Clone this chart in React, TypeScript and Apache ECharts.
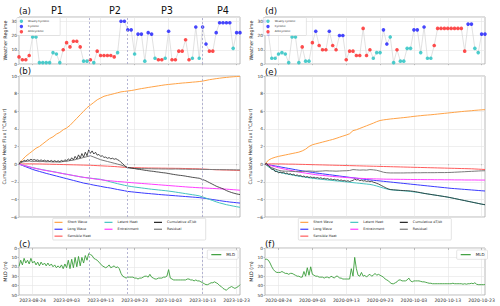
import React, { useEffect, useRef } from 'react';
import * as echarts from 'echarts';

const DAY = 86400000;
const FONT = 'DejaVu Sans';

// ---- dates ----
const START_L = '2023-08-20';
const END_L = '2023-10-24';
const START_R = '2020-08-20';
const END_R = '2020-10-24';
const TICKS_L = ['2023-08-24', '2023-09-03', '2023-09-13', '2023-09-23', '2023-10-03', '2023-10-13', '2023-10-23'];
const TICKS_R = ['2020-08-24', '2020-09-03', '2020-09-13', '2020-09-23', '2020-10-03', '2020-10-13', '2020-10-23'];
const PERIOD_BOUNDS = ['2023-09-09T19:00:00Z', '2023-09-20T22:00:00Z', '2023-10-12T19:00:00Z'];
const PERIOD_LABELS = ['P1', 'P2', 'P3', 'P4'];

// ---- weather regime (daily) ----
const regimeA = [5, 3, 3, 6, 19, 19, 1, 1, 1, 1, 8, 7, 1, 10, 15, 12, 16, 16, 12, 2, 2, 3, 1, 9, 6, 6, 6, 6, 5, 8, 30, 30, 24, 24, 7, 21, 21, 2, 22, 21, 4, 3, 3, 4, 23, 3, 3, 9, 9, 17, 3, 4, 26, 4, 26, 14, 9, 9, 22, 29, 29, 29, 29, 11, 22, 22];
const regimeTypeA = 'AAAAWWWWWWWWWAAAAAAWWAWAAAAAAWCCCCWCCWCCWAAWCAAAAAAWCWCCAACCCCCWCC';
const regimeD = [30, 21, 4, 4, 7, 8, 7, 1, 19, 19, 1, 12, 2, 2, 15, 23, 13, 10, 10, 23, 13, 10, 20, 20, 3, 9, 9, 6, 6, 25, 6, 10, 4, 8, 8, 24, 14, 19, 1, 10, 2, 2, 11, 11, 24, 24, 8, 26, 4, 4, 13, 25, 25, 25, 25, 25, 25, 25, 25, 9, 28, 28, 11, 8, 21, 21];
const regimeTypeD = 'CCWWWWWWWWWAWWACAAACAACCAAAAAAAAWWWCCWWAWWWWCCWCWWAAAAAAAAAACCWWCC';

// ---- cumulative heat flux 2023 (daily) ----
const shortWaveB = [0, 0.5, 0.9, 1.2, 1.5, 1.8, 2.0, 2.3, 2.6, 2.9, 3.1, 3.4, 3.6, 3.9, 4.1, 4.4, 4.8, 5.2, 5.6, 6.0, 6.4, 6.7, 7.0, 7.3, 7.5, 7.7, 7.8, 7.9, 8.0, 8.1, 8.2, 8.25, 8.3, 8.35, 8.42, 8.5, 8.57, 8.63, 8.7, 8.76, 8.82, 8.88, 8.94, 9.0, 9.04, 9.08, 9.12, 9.16, 9.2, 9.23, 9.26, 9.3, 9.33, 9.37, 9.42, 9.5, 9.58, 9.64, 9.7, 9.75, 9.8, 9.84, 9.88, 9.91, 9.94, 9.96];
const longWaveB = [0, -0.15, -0.3, -0.45, -0.6, -0.72, -0.83, -0.94, -1.05, -1.15, -1.25, -1.35, -1.45, -1.55, -1.65, -1.75, -1.85, -1.95, -2.05, -2.15, -2.22, -2.3, -2.38, -2.45, -2.52, -2.6, -2.66, -2.72, -2.8, -2.88, -2.95, -3.02, -3.1, -3.14, -3.18, -3.22, -3.26, -3.3, -3.33, -3.37, -3.4, -3.44, -3.47, -3.5, -3.53, -3.56, -3.59, -3.62, -3.65, -3.68, -3.71, -3.74, -3.77, -3.8, -3.85, -3.9, -3.96, -4.02, -4.08, -4.14, -4.2, -4.25, -4.3, -4.34, -4.38, -4.42];
const sensibleB = [0, 0.02, 0.03, 0.03, 0.03, 0.02, 0.02, 0.01, 0, -0.01, -0.02, -0.03, -0.04, -0.05, -0.06, -0.07, -0.08, -0.09, -0.1, -0.11, -0.12, -0.13, -0.15, -0.17, -0.19, -0.21, -0.23, -0.25, -0.27, -0.3, -0.33, -0.36, -0.38, -0.39, -0.4, -0.41, -0.42, -0.43, -0.44, -0.44, -0.45, -0.45, -0.46, -0.46, -0.47, -0.47, -0.48, -0.48, -0.49, -0.5, -0.51, -0.52, -0.53, -0.54, -0.56, -0.58, -0.6, -0.62, -0.64, -0.65, -0.66, -0.67, -0.68, -0.7, -0.71, -0.72];
const latentB = [0, -0.1, -0.2, -0.3, -0.4, -0.48, -0.56, -0.64, -0.71, -0.78, -0.85, -0.92, -1.0, -1.08, -1.15, -1.22, -1.3, -1.37, -1.44, -1.5, -1.55, -1.6, -1.64, -1.68, -1.72, -1.82, -1.92, -2.02, -2.12, -2.22, -2.31, -2.4, -2.48, -2.54, -2.6, -2.65, -2.7, -2.75, -2.8, -2.85, -2.89, -2.93, -2.97, -3.01, -3.06, -3.11, -3.17, -3.23, -3.29, -3.35, -3.41, -3.47, -3.53, -3.6, -3.72, -3.86, -4.0, -4.14, -4.28, -4.4, -4.5, -4.6, -4.68, -4.76, -4.83, -4.9];
const entrainB = [0, -0.1, -0.21, -0.31, -0.41, -0.5, -0.58, -0.66, -0.73, -0.8, -0.87, -0.94, -1.01, -1.08, -1.15, -1.22, -1.29, -1.36, -1.43, -1.5, -1.55, -1.6, -1.66, -1.72, -1.77, -1.82, -1.86, -1.9, -1.94, -1.97, -2.0, -2.03, -2.07, -2.1, -2.13, -2.16, -2.19, -2.22, -2.25, -2.28, -2.31, -2.34, -2.37, -2.4, -2.43, -2.46, -2.49, -2.52, -2.55, -2.58, -2.61, -2.63, -2.66, -2.68, -2.7, -2.72, -2.74, -2.76, -2.78, -2.8, -2.82, -2.84, -2.87, -2.9, -2.93, -2.96];
const residualB = [0, 0.25, 0.3, 0.35, 0.3, 0.32, 0.28, 0.3, 0.26, 0.28, 0.24, 0.26, 0.22, 0.3, 0.32, 0.4, 0.45, 0.55, 0.65, 0.75, 0.85, 0.95, 0.8, 0.65, 0.5, 0.4, 0.3, 0.2, 0.1, 0.0, -0.1, -0.25, -0.4, -0.45, -0.48, -0.5, -0.5, -0.52, -0.52, -0.53, -0.54, -0.54, -0.55, -0.55, -0.56, -0.56, -0.55, -0.56, -0.57, -0.57, -0.58, -0.58, -0.58, -0.59, -0.6, -0.6, -0.61, -0.61, -0.62, -0.62, -0.63, -0.63, -0.64, -0.64, -0.65, -0.65];
// half-daily
const dTdtB = [0, 0.32, 0.25, 0.45, 0.36, 0.5, 0.42, 0.55, 0.45, 0.52, 0.42, 0.48, 0.38, 0.48, 0.36, 0.45, 0.33, 0.42, 0.3, 0.42, 0.28, 0.4, 0.27, 0.38, 0.28, 0.42, 0.3, 0.5, 0.36, 0.6, 0.42, 0.72, 0.48, 0.88, 0.58, 1.05, 0.68, 1.2, 0.8, 1.35, 0.95, 1.62, 1.22, 1.5, 1.15, 1.35, 1.02, 1.1, 0.88, 0.95, 0.76, 0.8, 0.66, 0.74, 0.6, 0.67, 0.55, 0.62, 0.5, 0.4, 0.2, 0.05, -0.15, -0.3, -0.4, -0.42, -0.45, -0.48, -0.5, -0.55, -0.58, -0.6, -0.63, -0.66, -0.7, -0.72, -0.75, -0.78, -0.8, -0.82, -0.85, -0.88, -0.9, -0.93, -0.96, -0.98, -1.0, -1.03, -1.07, -1.1, -1.14, -1.17, -1.2, -1.23, -1.26, -1.28, -1.3, -1.33, -1.36, -1.4, -1.43, -1.46, -1.5, -1.52, -1.55, -1.58, -1.6, -1.68, -1.75, -1.82, -1.9, -2.0, -2.1, -2.2, -2.3, -2.4, -2.5, -2.58, -2.65, -2.73, -2.8, -2.9, -3.0, -3.08, -3.15, -3.22, -3.28, -3.33, -3.38, -3.42, -3.45];

// ---- cumulative heat flux 2020 (daily) ----
const shortWaveE = [0, 0.45, 0.65, 0.78, 0.88, 0.96, 1.04, 1.12, 1.2, 1.28, 1.36, 1.5, 1.7, 2.0, 2.2, 2.3, 2.4, 2.5, 2.6, 2.7, 2.8, 2.92, 3.05, 3.18, 3.3, 3.45, 3.8, 3.9, 4.05, 4.2, 4.35, 4.5, 4.65, 4.82, 4.95, 5.02, 5.07, 5.12, 5.16, 5.2, 5.24, 5.28, 5.32, 5.37, 5.42, 5.46, 5.5, 5.54, 5.57, 5.6, 5.64, 5.68, 5.72, 5.76, 5.8, 5.84, 5.88, 5.92, 5.96, 6.0, 6.03, 6.06, 6.1, 6.13, 6.16, 6.18];
const longWaveE = [0, -0.07, -0.14, -0.21, -0.28, -0.35, -0.42, -0.49, -0.56, -0.63, -0.7, -0.76, -0.82, -0.88, -0.94, -1.0, -1.05, -1.1, -1.15, -1.2, -1.25, -1.3, -1.35, -1.4, -1.45, -1.5, -1.55, -1.6, -1.65, -1.7, -1.75, -1.79, -1.83, -1.87, -1.91, -1.95, -1.99, -2.03, -2.07, -2.11, -2.15, -2.19, -2.23, -2.27, -2.31, -2.35, -2.39, -2.43, -2.47, -2.51, -2.55, -2.59, -2.63, -2.67, -2.71, -2.75, -2.78, -2.81, -2.84, -2.87, -2.9, -2.93, -2.96, -2.99, -3.02, -3.05];
const sensibleE = [0, 0.02, 0.03, 0.03, 0.02, 0.02, 0.01, 0, 0, -0.01, -0.02, -0.03, -0.04, -0.05, -0.06, -0.07, -0.08, -0.09, -0.1, -0.11, -0.12, -0.13, -0.14, -0.15, -0.16, -0.17, -0.18, -0.19, -0.2, -0.21, -0.22, -0.23, -0.24, -0.25, -0.26, -0.27, -0.28, -0.29, -0.3, -0.31, -0.32, -0.33, -0.34, -0.35, -0.36, -0.37, -0.38, -0.39, -0.4, -0.41, -0.42, -0.43, -0.44, -0.45, -0.46, -0.47, -0.48, -0.49, -0.5, -0.51, -0.52, -0.53, -0.55, -0.57, -0.59, -0.61];
const latentE = [0, -0.3, -0.55, -0.75, -0.9, -1.0, -1.08, -1.16, -1.23, -1.3, -1.37, -1.43, -1.49, -1.55, -1.6, -1.65, -1.7, -1.74, -1.78, -1.82, -1.86, -1.9, -1.94, -1.98, -2.02, -2.06, -2.1, -2.14, -2.18, -2.22, -2.26, -2.3, -2.38, -2.48, -2.6, -2.72, -2.82, -2.9, -2.94, -2.97, -3.0, -3.03, -3.06, -3.1, -3.15, -3.2, -3.26, -3.32, -3.38, -3.44, -3.5, -3.56, -3.62, -3.68, -3.75, -3.82, -3.9, -3.98, -4.06, -4.14, -4.22, -4.3, -4.38, -4.46, -4.54, -4.62];
const entrainE = [0, -0.1, -0.2, -0.3, -0.4, -0.5, -0.58, -0.66, -0.74, -0.82, -0.9, -0.96, -1.02, -1.08, -1.14, -1.2, -1.24, -1.28, -1.32, -1.36, -1.4, -1.43, -1.46, -1.49, -1.52, -1.55, -1.57, -1.59, -1.61, -1.63, -1.65, -1.66, -1.67, -1.68, -1.69, -1.7, -1.71, -1.71, -1.72, -1.72, -1.73, -1.73, -1.74, -1.74, -1.75, -1.75, -1.75, -1.76, -1.76, -1.76, -1.77, -1.77, -1.77, -1.78, -1.78, -1.78, -1.79, -1.79, -1.79, -1.8, -1.8, -1.8, -1.8, -1.81, -1.81, -1.81];
const residualE = [0, -0.2, -0.4, -0.55, -0.7, -0.78, -0.8, -0.8, -0.82, -0.85, -0.85, -0.83, -0.8, -0.78, -0.8, -0.82, -0.8, -0.78, -0.75, -0.77, -0.78, -0.8, -0.78, -0.76, -0.75, -0.72, -0.62, -0.65, -0.68, -0.66, -0.68, -0.62, -0.65, -0.7, -0.8, -0.92, -0.98, -1.0, -1.0, -1.0, -1.0, -1.0, -0.99, -0.99, -0.98, -0.98, -0.98, -0.97, -0.97, -0.97, -0.97, -0.96, -0.96, -0.96, -0.95, -0.94, -0.92, -0.9, -0.88, -0.86, -0.84, -0.82, -0.8, -0.78, -0.76, -0.75];
// half-daily
const dTdtE = [0, 0.08, -0.2, -0.35, -0.6, -0.55, -0.85, -0.8, -1.0, -0.9, -1.0, -0.92, -1.08, -1.0, -1.15, -1.08, -1.22, -1.15, -1.3, -1.22, -1.35, -1.28, -1.42, -1.35, -1.48, -1.4, -1.52, -1.45, -1.55, -1.48, -1.58, -1.52, -1.62, -1.55, -1.66, -1.6, -1.7, -1.64, -1.74, -1.68, -1.78, -1.72, -1.82, -1.76, -1.86, -1.8, -1.9, -1.85, -1.95, -1.88, -1.98, -1.9, -1.85, -1.7, -1.8, -1.75, -1.88, -1.82, -1.92, -1.88, -1.96, -1.92, -2.0, -1.95, -2.05, -2.1, -2.18, -2.25, -2.35, -2.45, -2.55, -2.65, -2.75, -2.82, -2.88, -2.9, -2.92, -2.93, -2.95, -2.96, -2.98, -2.99, -3.0, -3.01, -3.02, -3.03, -3.05, -3.07, -3.1, -3.13, -3.17, -3.2, -3.24, -3.28, -3.32, -3.35, -3.38, -3.41, -3.44, -3.47, -3.5, -3.53, -3.56, -3.59, -3.62, -3.65, -3.68, -3.71, -3.74, -3.78, -3.82, -3.86, -3.9, -3.94, -3.98, -4.02, -4.06, -4.1, -4.14, -4.18, -4.22, -4.26, -4.3, -4.34, -4.38, -4.42, -4.46, -4.5, -4.54, -4.57, -4.6];

// ---- mixed layer depth (half-daily) ----
const mldC = [19.6, 13, 18, 11, 16, 13, 17, 11, 16, 14, 18, 15, 19, 15, 18, 16, 19, 16, 19, 17, 20, 18, 21, 19, 21, 18, 22, 17, 21, 13, 22, 12, 21, 10, 20, 9, 19, 10, 16, 8, 13, 6, 7, 8, 11, 12, 13, 15, 17, 19, 20, 21, 20, 18, 21, 20, 19, 21, 20, 22, 27, 30, 31, 32, 31, 31, 31, 31, 32, 32, 33, 32, 32, 31, 30, 30, 31, 28, 31, 32, 33, 33, 32, 32, 32, 31, 31, 30, 23, 32, 33, 34, 34, 34, 34, 34, 34, 34, 34, 33, 33, 34, 34, 35, 34, 35, 35, 36, 37, 38, 39, 39, 38, 37, 37, 36, 37, 38, 40, 41, 43, 44, 45, 43, 42, 41, 42, 43, 42, 41, 39];
const mldF = [12, 12, 13, 16, 20, 23, 25, 26, 26, 26, 25, 26, 27, 27, 28, 27, 27, 28, 29, 30, 30, 31, 31, 25, 30, 21, 29, 20, 28, 29, 30, 30, 31, 31, 31, 32, 31, 31, 32, 30, 31, 32, 30, 30, 32, 32, 33, 33, 33, 33, 33, 22, 30, 10, 22, 29, 30, 26, 30, 29, 31, 29, 28, 30, 29, 27, 29, 28, 29, 30, 31, 33, 34, 35, 37, 38, 38, 37, 36, 34, 34, 35, 35, 35, 34, 32, 35, 36, 35, 35, 35, 35, 35.5, 36, 36, 36.5, 37, 37.5, 37.5, 38, 38, 38, 38, 38, 38, 38, 38, 38, 38, 38, 38, 37.5, 38, 38, 38, 38, 38, 38.5, 38, 38.5, 38, 38, 37.5, 38, 37, 38.5, 39, 39, 39, 39, 39];

const HEAT_NAMES = ['Short Wave', 'Long Wave', 'Sensible Heat', 'Latent Heat', 'Entrainment', 'Cumulative dT/dt', 'Residual'];
const HEAT_COLORS: Record<string, string> = {
  'Short Wave': '#ffa347',
  'Long Wave': '#3a3aff',
  'Sensible Heat': '#ff5c5c',
  'Latent Heat': '#45c4c0',
  'Entrainment': '#ff3dff',
  'Cumulative dT/dt': '#222222',
  'Residual': '#7a7a7a',
};
const REGIME_COLORS: Record<string, string> = { W: '#22c2c2', C: '#1a1aff', A: '#ff2323' };

const ts = (s: string) => new Date(s.length === 10 ? s + 'T00:00:00Z' : s).getTime();
const series1 = (start: string, vals: number[], step: number) => vals.map((v, i) => [ts(start) + i * step, v]);
const fmtDate = (v: number) => new Date(v).toISOString().slice(0, 10);
const fmtNum = (v: number) => String(v).replace('-', '\u2212');

export default function App() {
  const ref = useRef<HTMLDivElement>(null);
  useEffect(() => {
    document.body.style.margin = '0';
    const chart = echarts.init(ref.current!, undefined, { renderer: 'svg' });

    const cols = [
      { left: 19, width: 221, start: START_L, end: END_L, ticks: TICKS_L },
      { left: 265, width: 220, start: START_R, end: END_R, ticks: TICKS_R },
    ];
    const rows = [
      { top: 17, height: 47 },
      { top: 76, height: 141 },
      { top: 248, height: 47 },
    ];
    const grid: any[] = [];
    const xAxis: any[] = [];
    const yAxis: any[] = [];
    cols.forEach((c, ci) => {
      rows.forEach((r, ri) => {
        const gi = ci * 3 + ri;
        grid.push({ left: c.left, width: c.width, top: r.top, height: r.height, show: true, borderColor: '#a8a8a8', borderWidth: 0.8, backgroundColor: 'transparent' });
        const tv = c.ticks.map(ts);
        xAxis.push({
          type: 'value', gridIndex: gi, min: ts(c.start), max: ts(c.end),
          axisLine: { show: false },
          axisTick: { show: true, length: ri === 2 ? 2 : 1.2, customValues: tv, lineStyle: { color: '#999', width: 0.6 } },
          axisLabel: { show: ri === 2, customValues: tv, formatter: fmtDate, fontSize: 4.6, fontFamily: FONT, color: '#333', margin: 2.5 },
          splitLine: { show: true, lineStyle: { color: '#e4e4e4', width: 0.6 } },
        });
        const base: any = {
          type: 'value', gridIndex: gi,
          axisLine: { show: false },
          axisTick: { show: true, length: 1.5, lineStyle: { color: '#999', width: 0.6 } },
          splitLine: { show: true, lineStyle: { color: '#e4e4e4', width: 0.6 } },
          nameLocation: 'middle', nameRotate: 90,
          nameTextStyle: { fontSize: 4.8, fontFamily: FONT, color: '#222' },
        };
        if (ri === 0) {
          yAxis.push({ ...base, min: 0, max: 33, interval: 10, name: 'Weather Regime', nameGap: 8,
            axisLabel: { fontSize: 4.3, fontFamily: FONT, color: '#333', margin: 2, formatter: (v: number) => (v % 10 === 0 ? String(v) : '') } });
        } else if (ri === 1) {
          yAxis.push({ ...base, min: -6, max: 10, interval: 2, name: 'Cumulative Heat Flux (\u00b0C/Hour)', nameGap: 10,
            axisLabel: { fontSize: 4.3, fontFamily: FONT, color: '#333', margin: 2, formatter: fmtNum } });
        } else {
          yAxis.push({ ...base, min: 0, max: 50, interval: 10, inverse: true, name: 'MLD (m)', nameGap: 8.5,
            axisLabel: { fontSize: 4.3, fontFamily: FONT, color: '#333', margin: 2 } });
        }
      });
    });

    const periodMark = {
      silent: true, symbol: 'none', label: { show: false },
      lineStyle: { type: [2, 2], color: '#a3a3c9', width: 0.8 },
      data: PERIOD_BOUNDS.map((d) => ({ xAxis: ts(d) })),
    };

    const series: any[] = [];
    const regimePanels = [
      { gi: 0, start: START_L, vals: regimeA, types: regimeTypeA, wname: 'Weakly Cyclonic', mark: true },
      { gi: 3, start: START_R, vals: regimeD, types: regimeTypeD, wname: 'Weakly cyclonic', mark: false },
    ];
    regimePanels.forEach((p) => {
      const all = series1(p.start, p.vals, DAY);
      series.push({
        type: 'line', name: 'regime-path', xAxisIndex: p.gi, yAxisIndex: p.gi, data: all, showSymbol: false,
        lineStyle: { color: '#d4d4d4', width: 0.7 }, itemStyle: { color: '#d4d4d4' }, z: 1,
        markLine: p.mark ? periodMark : undefined,
      });
      (['W', 'C', 'A'] as const).forEach((k) => {
        series.push({
          type: 'scatter', name: k === 'W' ? p.wname : k === 'C' ? 'Cyclonic' : 'Anticyclonic',
          xAxisIndex: p.gi, yAxisIndex: p.gi, symbolSize: 3.6, z: 3,
          itemStyle: { color: REGIME_COLORS[k] },
          data: all.filter((_, i) => p.types[i] === k),
        });
      });
    });

    const heatPanels = [
      { gi: 1, start: START_L, d: [shortWaveB, longWaveB, sensibleB, latentB, entrainB, dTdtB, residualB], mark: true },
      { gi: 4, start: START_R, d: [shortWaveE, longWaveE, sensibleE, latentE, entrainE, dTdtE, residualE], mark: false },
    ];
    heatPanels.forEach((p) => {
      HEAT_NAMES.forEach((n, i) => {
        const step = n === 'Cumulative dT/dt' ? DAY / 2 : DAY;
        series.push({
          type: 'line', name: n, xAxisIndex: p.gi, yAxisIndex: p.gi,
          data: series1(p.start, p.d[i], step), showSymbol: false,
          color: HEAT_COLORS[n], lineStyle: { color: HEAT_COLORS[n], width: n === 'Cumulative dT/dt' ? 0.8 : 1 },
          z: n === 'Cumulative dT/dt' ? 3 : 2,
          markLine: p.mark && i === 0 ? periodMark : undefined,
        });
      });
    });

    [{ gi: 2, start: START_L, v: mldC, mark: true }, { gi: 5, start: START_R, v: mldF, mark: false }].forEach((p) => {
      series.push({
        type: 'line', name: 'MLD', xAxisIndex: p.gi, yAxisIndex: p.gi, data: series1(p.start, p.v, DAY / 2),
        showSymbol: false, color: '#3a9d3a', lineStyle: { color: '#3a9d3a', width: 0.9 },
        markLine: p.mark ? periodMark : undefined,
      });
    });

    const heatLegendCols = [['Short Wave', 'Long Wave', 'Sensible Heat'], ['Latent Heat', 'Entrainment'], ['Cumulative dT/dt', 'Residual']];
    const legend: any[] = [];
    [16.7, 263.3].forEach((lx, k) => {
      legend.push({
        left: lx, top: 17.5, orient: 'vertical', selectedMode: false, icon: 'circle',
        itemWidth: 3.4, itemHeight: 3.4, itemGap: 1.9,
        padding: [2, 11, 2, 3], backgroundColor: 'rgba(255,255,255,0.85)', borderColor: '#cccccc', borderWidth: 0.5, borderRadius: 1,
        textStyle: { fontSize: 2.6, fontFamily: FONT, color: '#222', lineHeight: 3.4 },
        data: [k === 0 ? 'Weakly Cyclonic' : 'Weakly cyclonic', 'Cyclonic', 'Anticyclonic'],
      });
    });
    [0, 245.8].forEach((off) => {
      const xs = [54.5, 104.5, 154];
      heatLegendCols.forEach((names, ci) => {
        legend.push({
          left: xs[ci] + off, top: 218.9, orient: 'vertical', selectedMode: false, icon: 'rect',
          itemWidth: 8, itemHeight: 1.2, itemGap: 0, padding: 0,
          textStyle: { fontSize: 3.4, fontFamily: FONT, color: '#222', lineHeight: 6.9 },
          data: names,
        });
      });
    });
    [207.3, 456.7].forEach((lx) => {
      legend.push({
        left: lx, top: 250, orient: 'vertical', selectedMode: false, icon: 'rect',
        itemWidth: 10, itemHeight: 1.2, padding: [2, 3, 2, 4],
        backgroundColor: 'rgba(255,255,255,0.85)', borderColor: '#cccccc', borderWidth: 0.5, borderRadius: 1,
        textStyle: { fontSize: 4, fontFamily: FONT, color: '#222', lineHeight: 5.3 },
        data: ['MLD'],
      });
    });

    const periodX = [57, 115, 167, 223];
    const panelLabels = [
      { t: '(a)', x: 19, y: 11 }, { t: '(b)', x: 19, y: 71 }, { t: '(c)', x: 19, y: 244 },
      { t: '(d)', x: 265, y: 11 }, { t: '(e)', x: 265, y: 71.5 }, { t: '(f)', x: 265, y: 244 },
    ];
    const graphic: any[] = [
      ...[0, 245.6].map((off) => ({
        type: 'rect', z: 1, shape: { x: 52.7 + off, y: 218.3, width: 153, height: 21.7, r: 1 },
        style: { fill: '#ffffff', stroke: '#d0d0d0', lineWidth: 0.6 },
      })),
      ...PERIOD_LABELS.map((t, i) => ({
        type: 'text', x: periodX[i], y: 10, style: { text: t, fontSize: 9.7, fontFamily: FONT, fill: '#111', textAlign: 'center', textVerticalAlign: 'middle' },
      })),
      ...panelLabels.map((p) => ({
        type: 'text', x: p.x, y: p.y, style: { text: p.t, fontSize: 8.6, fontFamily: FONT, fill: '#111', textAlign: 'left', textVerticalAlign: 'middle' },
      })),
    ];

    chart.setOption({
      animation: false,
      backgroundColor: '#ffffff',
      textStyle: { fontFamily: FONT },
      grid, xAxis, yAxis, series, legend, graphic,
    });
    return () => chart.dispose();
  }, []);
  return <div ref={ref} style={{ width: 500, height: 306 }} />;
}
